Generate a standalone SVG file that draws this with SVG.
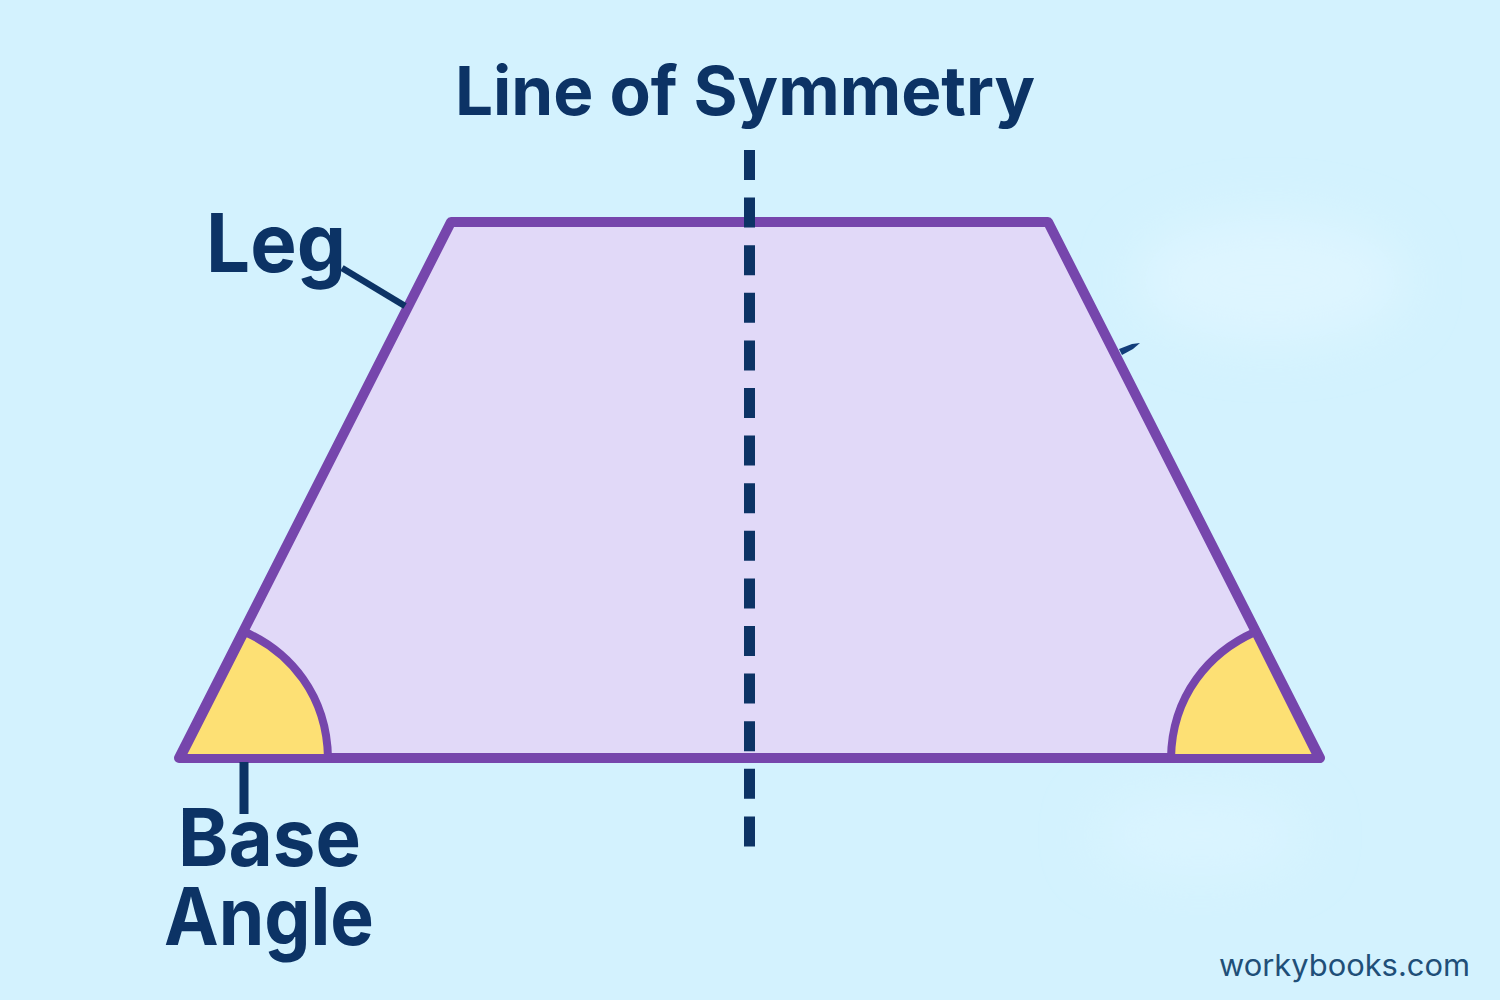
<svg xmlns="http://www.w3.org/2000/svg" width="1500" height="1000" viewBox="0 0 1500 1000">
<defs>
<style>
.lbl{font-family:"Inter","Liberation Sans",sans-serif;font-weight:700;fill:#0c3365}
.ang{fill:#fde074;stroke:#7646ac;stroke-width:8;stroke-linejoin:round}
.conn{stroke:#0c3365;fill:none}
</style>
<filter id="soft" x="-30%" y="-50%" width="160%" height="200%"><feGaussianBlur stdDeviation="26"/></filter>
</defs>
<rect width="1500" height="1000" fill="#d3f2fe"/>
<ellipse cx="1270" cy="280" rx="135" ry="62" fill="#def5ff" filter="url(#soft)"/>
<ellipse cx="1200" cy="835" rx="105" ry="42" fill="#daf4ff" filter="url(#soft)"/>
<g id="trapezoid">
<path d="M451 222H1048L1320 758H179Z" fill="#e1d9f8" stroke="#7646ac" stroke-width="10" stroke-linejoin="round"/>
</g>
<g id="angle-left">
<path class="ang" d="M245 632C290 652 327 695 328 758H181Z"/>
</g>
<g id="angle-right">
<path class="ang" d="M1255 632C1210 652 1172 695 1171 758H1318Z"/>
</g>
<g id="connectors">
<path class="conn" stroke-width="6.500" d="M342 268L405 306"/>
<path class="conn" stroke-width="9" d="M244 762V814"/>
<path class="conn" stroke-width="11" stroke-dasharray="30 17.6" d="M749.500 150V848"/>
<path d="M1119 349L1132 344L1140 343L1133 349L1122 355Z" fill="#123d7a"/>
</g>
<g id="label-symmetry"><text class="lbl" x="745" y="115" font-size="67" text-anchor="middle" textLength="580" lengthAdjust="spacingAndGlyphs">Line of Symmetry</text></g>
<g id="label-leg"><text class="lbl" x="206" y="272" font-size="81" textLength="140" lengthAdjust="spacingAndGlyphs">Leg</text></g>
<g id="label-base-angle">
<text class="lbl" x="178" y="866" font-size="80" textLength="183" lengthAdjust="spacingAndGlyphs">Base</text>
<text class="lbl" x="164" y="945" font-size="80" textLength="210" lengthAdjust="spacingAndGlyphs">Angle</text>
</g>
<g id="watermark"><text x="1219" y="976" font-family="Inter,'Liberation Sans',sans-serif" font-size="30" fill="#1f4f78" textLength="251" lengthAdjust="spacingAndGlyphs">workybooks.com</text></g>
</svg>
